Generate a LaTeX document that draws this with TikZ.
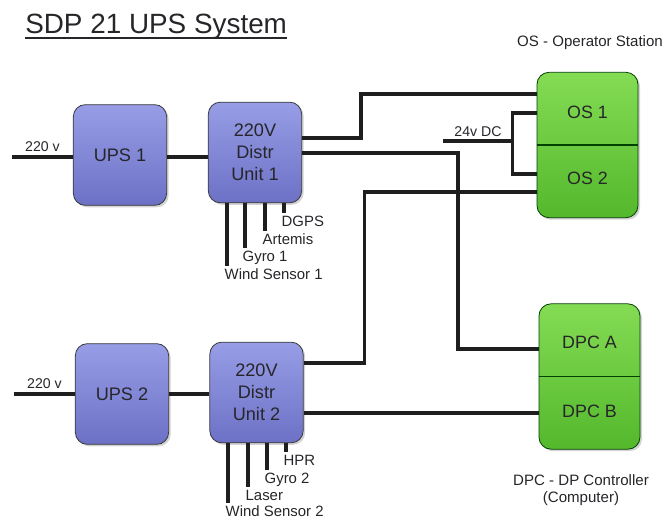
\documentclass[tikz,border=0pt]{standalone}
\usepackage{fontspec}
\setmainfont{Liberation Sans}
\usetikzlibrary{calc, shadows}
\definecolor{upsblue}{RGB}{152,157,230}
\definecolor{upsbluedark}{RGB}{108,113,198}
\definecolor{osgreen}{RGB}{132,220,84}
\definecolor{osgreendark}{RGB}{84,184,44}
\definecolor{wirecol}{RGB}{30,30,30}
\definecolor{txtcol}{RGB}{38,38,42}

\begin{document}
\begin{tikzpicture}[x=0.75pt, y=-0.75pt,
    wire/.style={line width=2.5pt, draw=wirecol},
    bluebox/.style={draw=gray!45!black, line width=0.6pt, rounded corners=9pt, top color=upsblue, bottom color=upsbluedark, minimum width=70pt, minimum height=75.5pt, align=center, font=\fontsize{13.6}{16.5}\selectfont, text=txtcol, drop shadow={shadow xshift=1.5pt, shadow yshift=-1.5pt, opacity=0.35}},
    greenbox/.style={draw=green!25!black, line width=0.6pt, rounded corners=9pt, top color=osgreen, bottom color=osgreendark, minimum width=75.75pt, minimum height=109pt, drop shadow={shadow xshift=1.5pt, shadow yshift=-1.5pt, opacity=0.35}},
    boxtext/.style={font=\fontsize{13.4}{16.5}\selectfont, text=txtcol},
    sensor/.style={anchor=base west, inner sep=0pt, xshift=-3pt, yshift=-10pt, font=\fontsize{11.2}{13}\selectfont, text=txtcol},
    lbl/.style={font=\fontsize{10.6}{12}\selectfont, text=txtcol},
    caption/.style={font=\fontsize{11.3}{12.5}\selectfont, text=txtcol}]
    \useasboundingbox (0,0) rectangle (664,521);
    \node [anchor=base west, inner sep=0pt, font=\fontsize{20.9}{24}\selectfont, text=txtcol] (title) at (25,33) {SDP 21 UPS System};
    \draw [line width=1.5pt, txtcol] ($(title.base west)+(0,4.5)$) -- ($(title.base east)+(0,4.5)$);
    \node [bluebox] (u1) at (120,155) {UPS 1};
    \node [bluebox] (u2) at (122,394) {UPS 2};
    \node [bluebox] (d1) at (255,152.5) {220V\\Distr\\Unit 1};
    \node [bluebox] (d2) at (256.5,392.5) {220V\\Distr\\Unit 2};
    \node [greenbox] (os) at (587.5,145) {};
    \node [greenbox] (dpc) at (589.5,376.5) {};
    \draw [line width=1.2pt, green!25!black] (os.west) -- (os.east);
    \draw [line width=1.2pt, green!25!black] (dpc.west) -- (dpc.east);
    \node [boxtext] (os1) at ($(os.center)+(0,-33)$) {OS 1};
    \node [boxtext] (os2) at ($(os.center)+(0,33)$) {OS 2};
    \node [boxtext] (dpca) at ($(dpc.center)+(0,-34)$) {DPC A};
    \node [boxtext] (dpcb) at ($(dpc.center)+(0,35)$) {DPC B};
    \node [caption] (oscap) at (590,43) {OS - Operator Station};
    \node [caption, align=center] (dpccap) at (581,490) {DPC - DP Controller\\(Computer)};
    \coordinate (in1) at (12,157);
    \coordinate (in2) at (14,394);
    \draw [wire] (in1) -- (in1 -| u1.west) node [lbl, midway, above, inner sep=3pt] (v1) {220 v};
    \draw [wire] (in2) -- (in2 -| u2.west) node [lbl, midway, above, inner sep=3pt] (v2) {220 v};
    \draw [wire] (u1.east |- in1) -- (d1.west |- in1);
    \draw [wire] (u2.east |- in2) -- (d2.west |- in2);
    \draw [wire] ($(d1.east)+(0,-14.5)$) -- ++(59,0) |- ($(os.west)+(0,-51)$);
    \draw [wire] ($(d1.east)+(0,0.5)$) -- ++(156,0) |- ($(dpc.west)+(0,-27.5)$);
    \draw [wire] ($(d2.east)+(0,-29.5)$) -- ++(61,0) |- ($(os.west)+(0,47)$);
    \draw [wire] ($(d2.east)+(0,20.5)$) -- ($(dpc.west)+(0,36.5)$);
    \coordinate (dc) at (443,141);
    \draw [wire] (dc) -- ++(70,0) node [lbl, midway, above, inner sep=2pt] (dcv) {24v DC};
    \draw [wire] ($(os.west)+(0,-32)$) -- ++(-24,0) |- ($(os.west)+(0,29)$);
    \foreach \dx/\len/\txt/\nm in {-28/63/Wind Sensor 1/ws1, -10/45/Gyro 1/gy1, 10/28/Artemis/ar1, 29/10/DGPS/dg1} {
        \draw [wire] ($(d1.south)+(\dx,0)$) -- ++(0,\len) node [sensor] (\nm) {\txt};
    }
    \foreach \dx/\len/\txt/\nm in {-28.5/60/Wind Sensor 2/ws2, -8.5/44/Laser/ls2, 10.5/27/Gyro 2/gy2, 29.5/9/HPR/hp2} {
        \draw [wire] ($(d2.south)+(\dx,0)$) -- ++(0,\len) node [sensor] (\nm) {\txt};
    }
\end{tikzpicture}
\end{document}
